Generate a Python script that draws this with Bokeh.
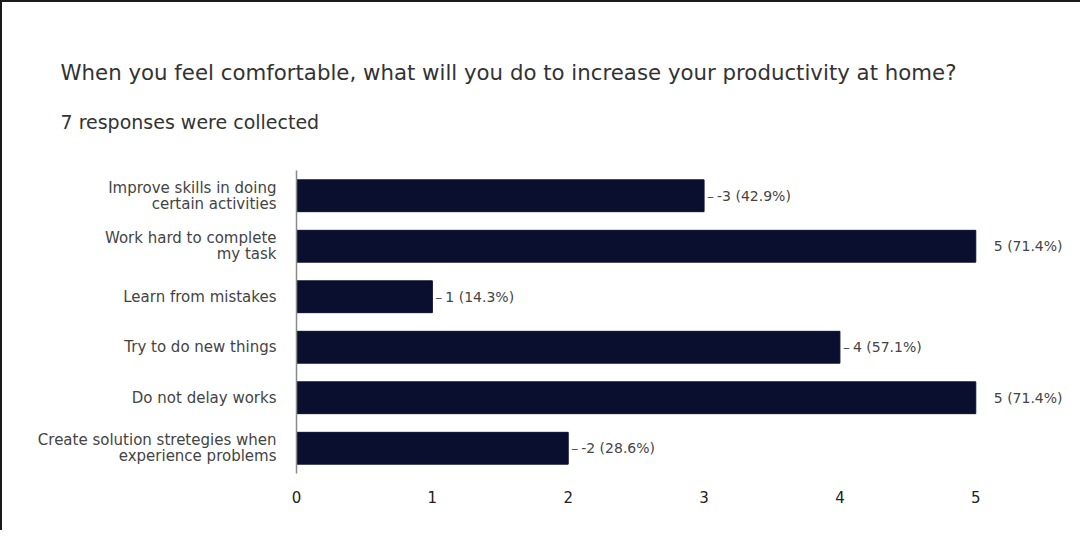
from bokeh.plotting import figure
from bokeh.models import FactorRange, Range1d, FixedTicker, Title, ColumnDataSource
from bokeh.core.properties import value
from bokeh.embed import file_html
from bokeh.resources import INLINE

# ---- data ----
categories = [
    "Improve skills in doing\ncertain activities",
    "Work hard to complete\nmy task",
    "Learn from mistakes",
    "Try to do new things",
    "Do not delay works",
    "Create solution stretegies when\nexperience problems",
]
counts = [3, 5, 1, 4, 5, 2]
value_labels = ["-3 (42.9%)", "5 (71.4%)", "1 (14.3%)", "4 (57.1%)", "5 (71.4%)", "-2 (28.6%)"]
x_ticks = [0, 1, 2, 3, 4, 5]
title_text = "When you feel comfortable, what will you do to increase your productivity at home?"
subtitle_text = "7 responses were collected"

FONT = "DejaVu Sans"
BAR = "#0b0f2f"
max_count = max(counts)

src = ColumnDataSource(dict(
    cat=categories,
    cnt=counts,
    lab=value_labels,
    off=[18 if c == max_count else 13 for c in counts],
    dash=["" if c == max_count else "\u2013" for c in counts],
))

p = figure(
    width=1080, height=530,
    y_range=FactorRange(factors=categories[::-1], range_padding=0),
    x_range=Range1d(0, 5.712),
    output_backend="svg", toolbar_location=None,
    min_border_left=294, min_border_right=10,
    min_border_top=168, min_border_bottom=59,
)
p.styles = {"border-top": "2px solid #1a1a1a", "border-left": "2px solid #1a1a1a"}

p.hbar(y="cat", left=0, right="cnt", height=0.63, source=src,
       fill_color=BAR, line_color=BAR)

p.text(x="cnt", y="cat", text="dash", source=src, x_offset=3,
       text_baseline="middle", text_align="left", text_color="#555",
       text_font=value(FONT), text_font_size="14px")
p.text(x="cnt", y="cat", text="lab", source=src, x_offset="off",
       text_baseline="middle", text_align="left", text_color="#444",
       text_font=value(FONT), text_font_size="14px")

# titles
sub = Title(text=subtitle_text, align="left", offset=-236, standoff=75,
            text_font=FONT, text_font_size="19px", text_font_style="normal",
            text_color="#333")
main = Title(text=title_text, align="left", offset=-236, standoff=-26,
             text_font=FONT, text_font_size="21.3px", text_font_style="normal",
             text_color="#333")
p.add_layout(sub, "above")
p.add_layout(main, "above")

# axes
p.xaxis.ticker = FixedTicker(ticks=x_ticks)
p.xaxis.axis_line_color = None
p.xaxis.major_tick_line_color = None
p.xaxis.minor_tick_line_color = None
p.xaxis.major_tick_out = 0
p.xaxis.major_label_standoff = 17
p.xaxis.major_label_text_font = FONT
p.xaxis.major_label_text_font_size = "15px"
p.xaxis.major_label_text_color = "#222"

p.yaxis.axis_line_color = "#8a8a8a"
p.yaxis.axis_line_width = 1.5
p.yaxis.major_tick_line_color = None
p.yaxis.major_tick_out = 0
p.yaxis.major_label_standoff = 20
p.yaxis.major_label_text_font = FONT
p.yaxis.major_label_text_font_size = "15px"
p.yaxis.major_label_text_color = "#444"
p.yaxis.major_label_text_line_height = 0.9

p.xgrid.grid_line_color = None
p.ygrid.grid_line_color = None
p.outline_line_color = None
p.background_fill_color = "white"
p.border_fill_color = "white"

open("out.html", "w").write(file_html(p, INLINE))
